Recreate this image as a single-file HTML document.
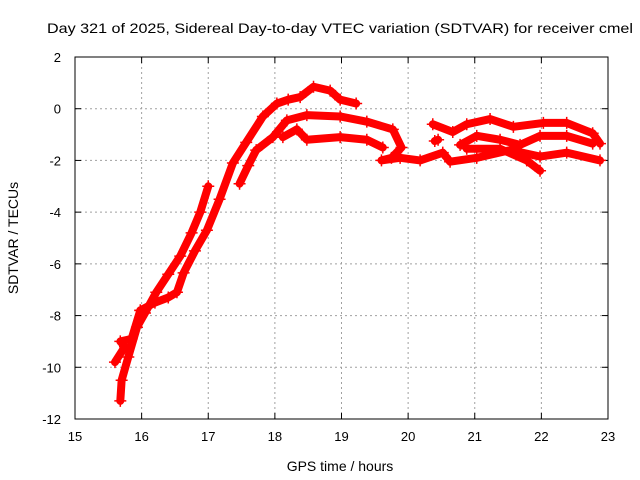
<!DOCTYPE html>
<html><head><meta charset="utf-8"><style>
body{margin:0;background:#fff;overflow:hidden}
svg{display:block;font-family:"Liberation Sans",sans-serif}
</style></head><body>
<svg id="chart" width="640" height="480" viewBox="0 0 640 480">
<text x="47" y="33" font-size="14" textLength="586" lengthAdjust="spacingAndGlyphs">Day 321 of 2025, Sidereal Day-to-day VTEC variation (SDTVAR) for receiver cmel</text>
<g id="grid"></g>
<rect x="75" y="57" width="533" height="362" fill="none" stroke="#000" stroke-width="1"/>
<g id="ticks"></g>
<g id="series"></g>
<text x="340" y="471" font-size="14" text-anchor="middle">GPS time / hours</text>
<text transform="translate(18,238) rotate(-90)" font-size="14" text-anchor="middle">SDTVAR / TECUs</text>
</svg>
<script>
const xTicks=[15,16,17,18,19,20,21,22,23];
const yTicks=[2,0,-2,-4,-6,-8,-10,-12];
const trackA=[[15.68,-11.3],[15.7,-10.5],[15.8,-9.6],[15.93,-8.45],[16.05,-7.9],[16.22,-7.1],[16.4,-6.4],[16.58,-5.7],[16.75,-4.8],[16.88,-4.0],[17.0,-3.0]];
const trackA2=[[15.6,-9.8],[15.75,-9.2],[15.68,-9.0],[15.85,-8.9],[15.98,-7.8]];
const trackB=[[15.98,-7.8],[16.2,-7.5],[16.4,-7.3],[16.53,-7.1],[16.63,-6.35],[16.8,-5.5],[16.98,-4.7],[17.17,-3.5],[17.37,-2.1],[17.57,-1.3],[17.82,-0.3],[18.03,0.2],[18.2,0.35],[18.38,0.45],[18.58,0.85],[18.83,0.7],[18.98,0.35],[19.22,0.2]];
const trackC=[[17.47,-2.9],[17.6,-2.2],[17.72,-1.6],[17.97,-1.1],[18.18,-0.45],[18.48,-0.25],[18.98,-0.3],[19.38,-0.5],[19.77,-0.8],[19.9,-1.5],[19.75,-1.9],[19.6,-2.0],[19.88,-1.9],[20.18,-2.0],[20.52,-1.7],[20.63,-2.05],[21.03,-1.9],[21.53,-1.6],[21.98,-1.85],[22.38,-1.7],[22.88,-2.0]];
const trackD=[[18.12,-1.1],[18.33,-0.8],[18.48,-1.2],[18.98,-1.1],[19.38,-1.2],[19.62,-1.5]];
const trackE=[[20.37,-0.6],[20.67,-0.9],[20.88,-0.6],[21.23,-0.4],[21.58,-0.7],[22.03,-0.55],[22.38,-0.55],[22.77,-0.95],[22.88,-1.35]];
const trackF=[[20.78,-1.4],[21.03,-1.05],[21.38,-1.2],[21.68,-1.4],[21.98,-1.05],[22.38,-1.05],[22.77,-1.35]];
const trackG=[[20.88,-1.55],[21.38,-1.55],[21.78,-2.0],[21.98,-2.4]];
const blob=[[20.4,-1.25],[20.45,-1.2]];
const tracks=[trackA,trackA2,trackB,trackC,trackD,trackE,trackF,trackG,blob];
const X=h=>75+(h-15)*(533/8);
const Y=v=>57+(2-v)*(362/14);
const NS='http://www.w3.org/2000/svg';
function mk(t,a,p){const e=document.createElementNS(NS,t);for(const k in a)e.setAttribute(k,a[k]);p.appendChild(e);return e;}
const grid=document.getElementById('grid'),ticks=document.getElementById('ticks'),ser=document.getElementById('series');
xTicks.forEach(t=>{const x=X(t);
 if(t>15&&t<23){const g=mk('line',{x1:x,x2:x,y1:57,y2:419,stroke:'#a0a0a0','stroke-dasharray':'2,3'},grid);}
 mk('line',{x1:x,x2:x,y1:419,y2:413,stroke:'#000'},ticks);mk('line',{x1:x,x2:x,y1:57,y2:63,stroke:'#000'},ticks);
 const l=mk('text',{x:x,y:441,'font-size':13,'text-anchor':'middle'},ticks);l.textContent=t;
 });
yTicks.forEach(t=>{const y=Y(t);
 if(t<2&&t>-12){const g=mk('line',{x1:75,x2:608,y1:y,y2:y,stroke:'#a0a0a0','stroke-dasharray':'2,3'},grid);}
 mk('line',{x1:75,x2:81,y1:y,y2:y,stroke:'#000'},ticks);mk('line',{x1:608,x2:602,y1:y,y2:y,stroke:'#000'},ticks);
 const l=mk('text',{x:61,y:y+5,'font-size':13,'text-anchor':'end'},ticks);l.textContent=t;
 });
tracks.forEach(tr=>{
 const pl=mk('polyline',{points:tr.map(p=>X(p[0])+','+Y(p[1])).join(' '),fill:'none',stroke:'#f00','stroke-width':8,'stroke-linejoin':'round','stroke-linecap':'round'},ser);
 
 tr.forEach(p=>{const x=X(p[0]),y=Y(p[1]);
  const m=mk('path',{d:`M${x-6},${y}H${x+6}M${x},${y-6}V${y+6}`,stroke:'#f00','stroke-width':1.5},ser);
  });
});
</script>
</body></html>
